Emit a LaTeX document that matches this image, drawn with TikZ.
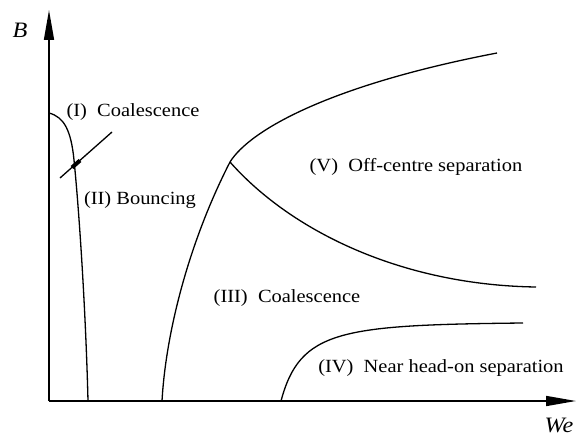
\documentclass[tikz,border=0pt]{standalone}
\usepackage{fontspec}
\setmainfont{Liberation Serif}[FakeStretch=1.1]
\usetikzlibrary{arrows.meta}
\begin{document}
\begin{tikzpicture}[x=1pt,y=-1pt,
  axis/.style={line width=1.6pt,-{Triangle[length=30pt,width=10pt]}},
  curve/.style={line width=1.3pt},
  lbl/.style={font=\fontsize{18.6}{20}\selectfont,inner sep=0pt},
  axlbl/.style={font=\fontsize{22}{24}\selectfont\itshape,inner sep=0pt}]
\useasboundingbox (0,0) rectangle (576,436);
\coordinate (O) at (49,401);
\coordinate (ytip) at (49,10);
\coordinate (xtip) at (576,401);
\draw[axis] (O) -- (ytip);
\draw[axis] (O) -- (xtip);
\node[axlbl] (B) at (20,30) {B};
\node[axlbl] (We) at (559,425) {We};
% curve I
\coordinate (c1s) at (49,113);
\coordinate (c1e) at (88,401);
\draw[curve] (c1s) .. controls (64,117) and (71,130) .. (74,160) .. controls (80,220) and (86,320) .. (c1e);
% curve II
\coordinate (c2s) at (162,401);
\coordinate (J) at (230,162);
\coordinate (c2e) at (497,53);
\draw[curve] (c2s) .. controls (166,330) and (190,240) .. (J) .. controls (250,130) and (330,85) .. (c2e);
% off-centre boundary
\coordinate (c3e) at (536,287);
\draw[curve] (J) .. controls (290,230) and (400,285) .. (c3e);
% curve IV
\coordinate (c4s) at (281,401);
\coordinate (c4e) at (523,323);
\draw[curve] (c4s) .. controls (300,330) and (340,325) .. (c4e);
% pointer line
\coordinate (p1) at (60,178);
\coordinate (p2) at (112,132);
\draw[line width=1.3pt] (p1) -- (p2);
\coordinate (b1) at (72,167.5);
\coordinate (b2) at (80,160.5);
\draw[line width=4pt] (b1) -- (b2);
% labels
\node[lbl] (L1) at (133,112) {(I)\ \ Coalescence};
\node[lbl] (L2) at (140,200) {(II) Bouncing};
\node[lbl] (L5) at (416,167) {(V)\ \ Off-centre separation};
\node[lbl] (L3) at (287,298) {(III)\ \ Coalescence};
\node[lbl] (L4) at (441,368) {(IV)\ \ Near head-on separation};
\end{tikzpicture}
\end{document}
